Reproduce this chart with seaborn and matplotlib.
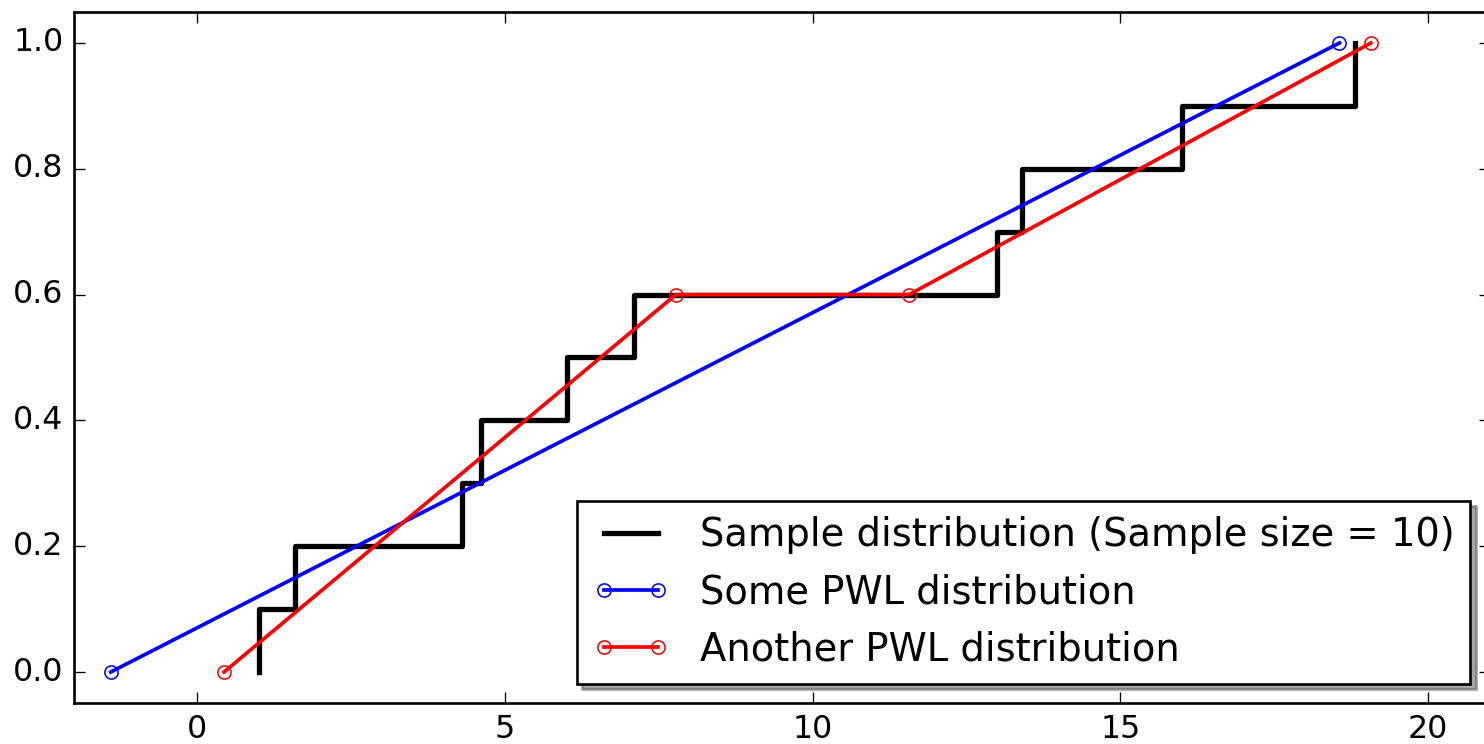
import matplotlib
matplotlib.use("Agg")
import matplotlib.pyplot as plt
import seaborn as sns
import numpy as np

plt.style.use("classic")

# Sample observations (steps of the empirical distribution)
sample = [1.01, 1.60, 4.31, 4.61, 6.01, 7.10, 13.00, 13.41, 16.01, 18.82]
# Piecewise-linear distributions
pwl1_x = [-1.40, 18.56]
pwl1_y = [0.0, 1.0]
pwl2_x = [0.44, 7.78, 11.57, 19.07]
pwl2_y = [0.0, 0.6, 0.6, 1.0]

labels = ["Sample distribution (Sample size = 10)",
          "Some PWL distribution",
          "Another PWL distribution"]

DPI = 190
fig = plt.figure(figsize=(1484 / DPI, 744 / DPI), dpi=DPI, facecolor="white")
ax = fig.add_axes([0.0498, 0.0545, 0.9540, 0.930])

sns.ecdfplot(x=sample, ax=ax, color="k", lw=2, label=labels[0])
sns.lineplot(x=pwl1_x, y=pwl1_y, ax=ax, color="b", lw=1.4, marker="o",
             markersize=5, markerfacecolor="none", markeredgecolor="b",
             markeredgewidth=0.6, label=labels[1])
sns.lineplot(x=pwl2_x, y=pwl2_y, ax=ax, color="r", lw=1.4, marker="o",
             markersize=5, markerfacecolor="none", markeredgecolor="r",
             markeredgewidth=0.6, label=labels[2])

ax.set_xlim(-2, 21)
ax.set_ylim(-0.05, 1.05)
ax.set_xticks([0, 5, 10, 15, 20])
ax.set_yticks([0.0, 0.2, 0.4, 0.6, 0.8, 1.0])
ax.set_xlabel("")
ax.set_ylabel("")

ax.legend(loc="lower right", shadow=True, fancybox=False, numpoints=2,
          fontsize=14.6)

fig.savefig("out.png", dpi=DPI, facecolor="white")
